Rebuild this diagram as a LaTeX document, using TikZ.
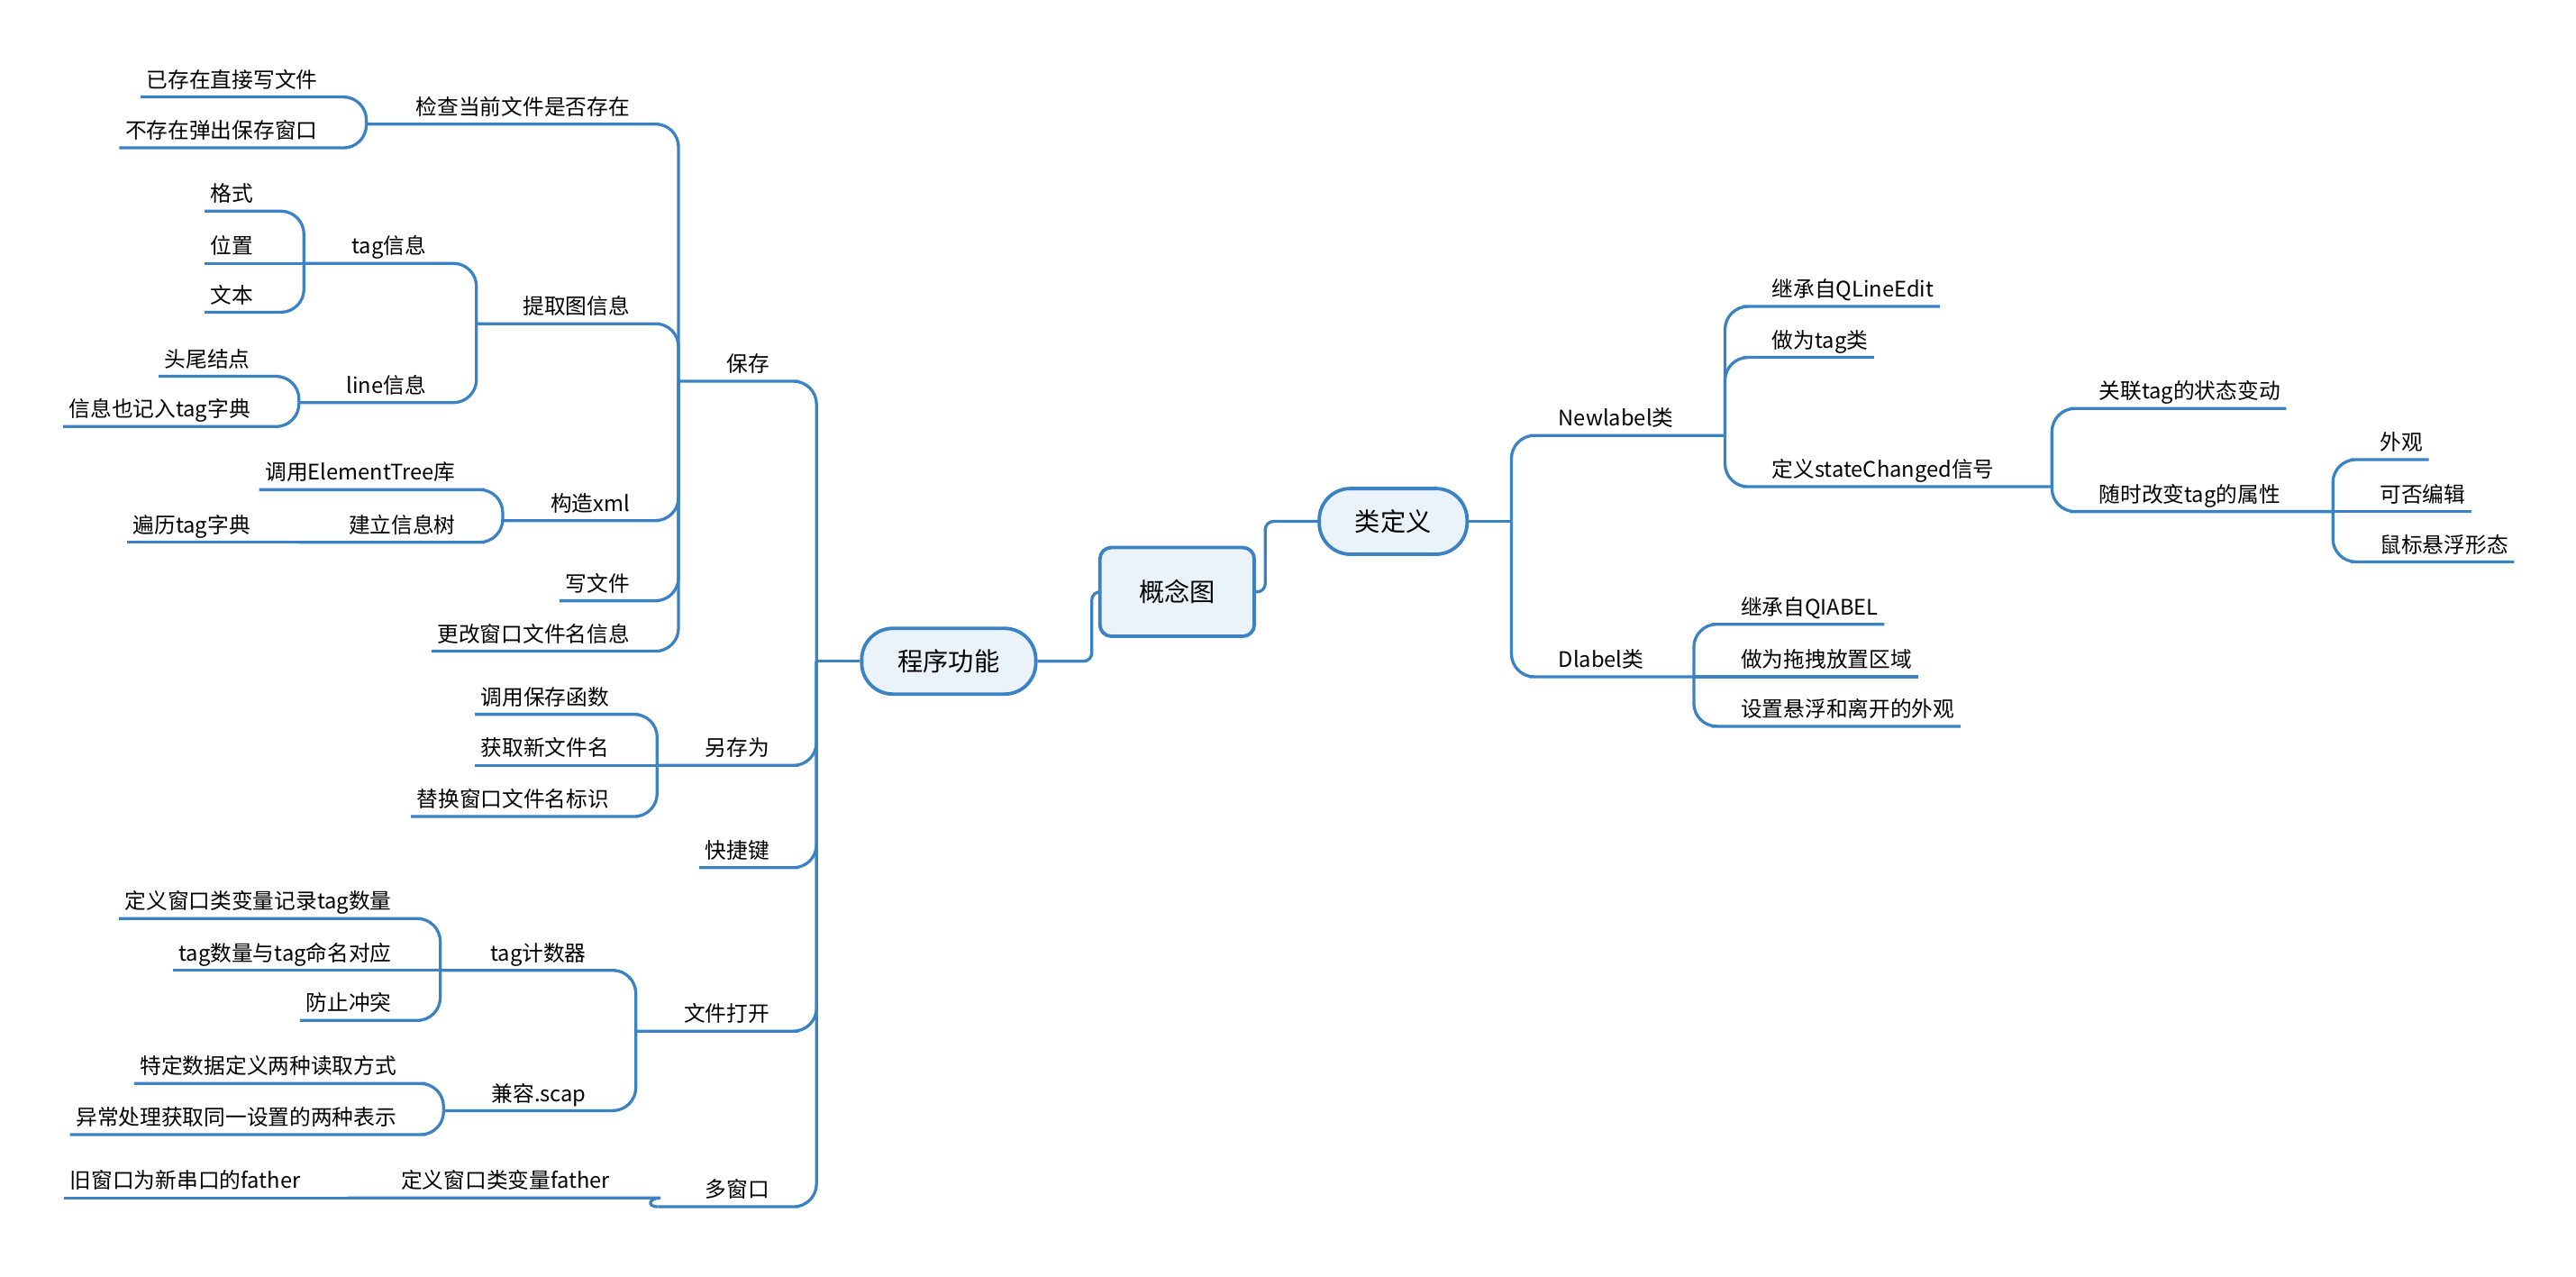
\documentclass[tikz,border=0pt]{standalone}
\usepackage{fontspec}
\setmainfont{Noto Sans CJK SC}
\usepackage{tikz}
\definecolor{mapblue}{RGB}{59,130,196}
\definecolor{hubfill}{RGB}{234,242,250}

\begin{document}
\begin{tikzpicture}[x=1pt, y=-1pt,
  topic/.style={inner xsep=3.5pt, inner ysep=3pt, text height=11pt, text depth=2.5pt, font=\fontsize{13}{15}\selectfont},
  lt/.style={topic, anchor=south east},
  rt/.style={topic, anchor=south west},
  hub/.style={draw=mapblue, line width=2.1pt, fill=hubfill, rounded corners=19pt, minimum width=106pt, minimum height=40pt, inner sep=0pt, font=\fontsize{15.5}{18}\selectfont},
  rootbox/.style={hub, rounded corners=7pt, minimum width=94pt, minimum height=54pt},
  link/.style={draw=mapblue, line width=1.8pt, rounded corners=14pt}
]
\useasboundingbox (0,0) rectangle (1568,777);

% Centre
\node (concept) [rootbox] at (716.5,360.2) {概念图};
\node (prog) [hub] at (577.5,402.4) {程序功能};
\node (cls) [hub, minimum width=90pt] at (848,317.3) {类定义};

% Program functions
\node (save) [lt] at (472,232) {保存};
\node (saveas) [lt] at (472,465.8) {另存为};
\node (hotkey) [lt] at (472,528) {快捷键};
\node (openf) [lt] at (472,627.5) {文件打开};
\node (multi) [lt] at (472,734.4) {多窗口};

% Save
\node (check) [lt] at (387,75.5) {检查当前文件是否存在};
\node (extract) [lt] at (387,197) {提取图信息};
\node (buildxml) [lt] at (387,316.8) {构造xml};
\node (write) [lt] at (387,365.6) {写文件};
\node (rename) [lt] at (387,396.3) {更改窗口文件名信息};
\node (exists) [lt] at (197,59) {已存在直接写文件};
\node (notexist) [lt] at (197,90) {不存在弹出保存窗口};
\node (taginfo) [lt] at (263,160.3) {tag信息};
\node (lineinfo) [lt] at (263,245) {line信息};
\node (fmt) [lt] at (158,128.5) {格式};
\node (pos) [lt] at (158,160.3) {位置};
\node (txt) [lt] at (158,190) {文本};
\node (ends) [lt] at (156,229) {头尾结点};
\node (linedict) [lt] at (156,259.6) {信息也记入tag字典};
\node (etree) [lt] at (281,298) {调用ElementTree库};
\node (infotree) [lt] at (281,330) {建立信息树};
\node (traverse) [lt] at (156,330) {遍历tag字典};

% Save as
\node (callsave) [lt] at (374.5,434.7) {调用保存函数};
\node (newname) [lt] at (374.5,465.8) {获取新文件名};
\node (replace) [lt] at (374.5,496.9) {替换窗口文件名标识};

% Open file
\node (counter) [lt] at (360.5,590.5) {tag计数器};
\node (compat) [lt] at (360.5,675.9) {兼容.scap};
\node (countvar) [lt] at (242,559) {定义窗口类变量记录tag数量};
\node (countname) [lt] at (242,590.5) {tag数量与tag命名对应};
\node (conflict) [lt] at (242,621) {防止冲突};
\node (readmode) [lt] at (245,659.4) {特定数据定义两种读取方式};
\node (except) [lt] at (245,690.5) {异常处理获取同一设置的两种表示};

% Multi window
\node (fathervar) [lt] at (375,729) {定义窗口类变量father};
\node (oldwin) [lt] at (186.5,729) {旧窗口为新串口的father};

% Class definitions
\node (newlabel) [rt] at (945,265) {Newlabel类};
\node (dlabel) [rt] at (945,411.9) {Dlabel类};
\node (inheritq) [rt] at (1075,186.5) {继承自QLineEdit};
\node (astag) [rt] at (1075,217.5) {做为tag类};
\node (signal) [rt] at (1075,296.2) {定义stateChanged信号};
\node (relate) [rt] at (1274,248.6) {关联tag的状态变动};
\node (change) [rt] at (1274,311.3) {随时改变tag的属性};
\node (look) [rt] at (1445,279.7) {外观};
\node (editable) [rt] at (1445,311.3) {可否编辑};
\node (hover) [rt] at (1445,341.9) {鼠标悬浮形态};
\node (inheritl) [rt] at (1056,379.9) {继承自QIABEL};
\node (droparea) [rt] at (1056,411.9) {做为拖拽放置区域};
\node (hoverlook) [rt] at (1056,442) {设置悬浮和离开的外观};

% Junctions
\coordinate (progJ) at (497,402.4);
\coordinate (saveJ) at (413,232);
\coordinate (checkJ) at (223,75.5);
\coordinate (extractJ) at (290,197);
\coordinate (taginfoJ) at (185,160.3);
\coordinate (lineinfoJ) at (182,245);
\coordinate (buildxmlJ) at (306,316.8);
\coordinate (infotreeJ) at (182,330);
\coordinate (saveasJ) at (400,465.8);
\coordinate (openfJ) at (387,627.5);
\coordinate (counterJ) at (268,590.5);
\coordinate (compatJ) at (270,675.9);
\coordinate (multiJ) at (400.5,734.4);
\coordinate (fathervarJ) at (211.5,729);
\coordinate (clsJ) at (920,317.3);
\coordinate (newlabelJ) at (1050,265);
\coordinate (signalJ) at (1249,296.2);
\coordinate (changeJ) at (1420,311.3);
\coordinate (dlabelJ) at (1031,411.9);

% Links
\draw[link, rounded corners=5pt] (prog.east) -- ++(33,0) |- (concept.west);
\draw[link, rounded corners=5pt] (concept.east) -- ++(5.6,0) |- (cls.west);
\draw[link] (prog.west) -- (progJ);
\draw[link] (cls.east) -- (clsJ);

\draw[link] (progJ) |- (save.south east) -- (save.south west) -- (saveJ);
\draw[link] (progJ) |- (saveas.south east) -- (saveas.south west) -- (saveasJ);
\draw[link] (progJ) |- (hotkey.south east) -- (hotkey.south west);
\draw[link] (progJ) |- (openf.south east) -- (openf.south west) -- (openfJ);
\draw[link] (progJ) |- (multi.south east) -- (multi.south west) -- (multiJ);

\draw[link] (saveJ) |- (check.south east) -- (check.south west) -- (checkJ);
\draw[link] (saveJ) |- (extract.south east) -- (extract.south west) -- (extractJ);
\draw[link] (saveJ) |- (buildxml.south east) -- (buildxml.south west) -- (buildxmlJ);
\draw[link] (saveJ) |- (write.south east) -- (write.south west);
\draw[link] (saveJ) |- (rename.south east) -- (rename.south west);
\draw[link] (checkJ) |- (exists.south east) -- (exists.south west);
\draw[link] (checkJ) |- (notexist.south east) -- (notexist.south west);
\draw[link] (extractJ) |- (taginfo.south east) -- (taginfo.south west) -- (taginfoJ);
\draw[link] (extractJ) |- (lineinfo.south east) -- (lineinfo.south west) -- (lineinfoJ);
\draw[link] (taginfoJ) |- (fmt.south east) -- (fmt.south west);
\draw[link] (taginfoJ) -- (pos.south east) -- (pos.south west);
\draw[link] (taginfoJ) |- (txt.south east) -- (txt.south west);
\draw[link] (lineinfoJ) |- (ends.south east) -- (ends.south west);
\draw[link] (lineinfoJ) |- (linedict.south east) -- (linedict.south west);
\draw[link] (buildxmlJ) |- (etree.south east) -- (etree.south west);
\draw[link] (buildxmlJ) |- (infotree.south east) -- (infotree.south west) -- (infotreeJ);
\draw[link] (infotreeJ) -- (traverse.south east) -- (traverse.south west);

\draw[link] (saveasJ) |- (callsave.south east) -- (callsave.south west);
\draw[link] (saveasJ) -- (newname.south east) -- (newname.south west);
\draw[link] (saveasJ) |- (replace.south east) -- (replace.south west);

\draw[link] (openfJ) |- (counter.south east) -- (counter.south west) -- (counterJ);
\draw[link] (openfJ) |- (compat.south east) -- (compat.south west) -- (compatJ);
\draw[link] (counterJ) |- (countvar.south east) -- (countvar.south west);
\draw[link] (counterJ) -- (countname.south east) -- (countname.south west);
\draw[link] (counterJ) |- (conflict.south east) -- (conflict.south west);
\draw[link] (compatJ) |- (readmode.south east) -- (readmode.south west);
\draw[link] (compatJ) |- (except.south east) -- (except.south west);

\draw[link] (multiJ) .. controls +(-7,0) and +(7,0) .. ([xshift=13pt]fathervar.south east) -- (fathervar.south west) -- (fathervarJ);
\draw[link] (fathervarJ) -- (oldwin.south east) -- (oldwin.south west);

\draw[link] (clsJ) |- (newlabel.south west) -- (newlabel.south east) -- (newlabelJ);
\draw[link] (clsJ) |- (dlabel.south west) -- (dlabel.south east) -- (dlabelJ);
\draw[link] (newlabelJ) |- (inheritq.south west) -- (inheritq.south east);
\draw[link] (newlabelJ) |- (astag.south west) -- (astag.south east);
\draw[link] (newlabelJ) |- (signal.south west) -- (signal.south east) -- (signalJ);
\draw[link] (signalJ) |- (relate.south west) -- (relate.south east);
\draw[link] (signalJ) |- (change.south west) -- (change.south east) -- (changeJ);
\draw[link] (changeJ) |- (look.south west) -- (look.south east);
\draw[link] (changeJ) -- (editable.south west) -- (editable.south east);
\draw[link] (changeJ) |- (hover.south west) -- (hover.south east);
\draw[link] (dlabelJ) |- (inheritl.south west) -- (inheritl.south east);
\draw[link] (dlabelJ) -- (droparea.south west) -- (droparea.south east);
\draw[link] (dlabelJ) |- (hoverlook.south west) -- (hoverlook.south east);

\end{tikzpicture}
\end{document}
